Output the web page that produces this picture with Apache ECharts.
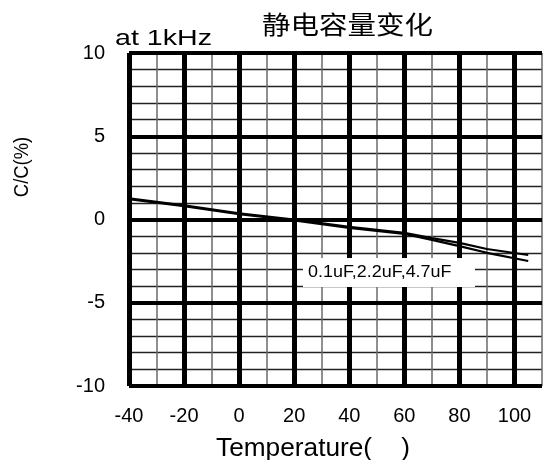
<!DOCTYPE html>
<html>
<head>
<meta charset="utf-8">
<script src="https://cdn.jsdelivr.net/npm/echarts@6/dist/echarts.min.js"></script>
<style>
  html, body { margin: 0; padding: 0; background: #fff; }
  #chart { width: 545px; height: 460px; }
</style>
</head>
<body>
<div id="chart"></div>
<script>
// Capacitance change vs temperature, measured at 1 kHz
const temps = [-40, -20, 0, 20, 40, 60, 70, 80, 90, 105];
const capUpper = [1.27, 0.85, 0.37, 0.0, -0.44, -0.80, -1.12, -1.40, -1.77, -2.13];
const capLower = [1.22, 0.80, 0.32, -0.05, -0.50, -0.87, -1.22, -1.60, -2.00, -2.49];

const xRange = [-40, 110];
const yRange = [-10, 10];
const xLabelLast = 100;

const titleText = '静电容量变化';
const freqText = 'at 1kHz';
const partsText = '0.1uF,2.2uF,4.7uF';
const xName = 'Temperature(    )';
const yName = 'C/C(%)';

const latin = '"Liberation Sans", Arial, sans-serif';
const cjk = '"Noto Sans CJK SC", sans-serif';

const toPairs = (xs, ys) => xs.map((x, i) => [x, ys[i]]);

const chart = echarts.init(document.getElementById('chart'), null, { renderer: 'canvas' });

const hidden = { show: false };

chart.setOption({
  animation: false,
  backgroundColor: '#fff',
  grid: { left: 129, top: 53, width: 414, height: 333, show: false },
  xAxis: [
    {
      type: 'value', min: xRange[0], max: xRange[1], interval: 10, z: 0,
      axisLine: hidden, axisTick: hidden, axisLabel: hidden,
      splitLine: { show: true, lineStyle: { color: '#6a6a6a', width: 1.5 } }
    },
    {
      type: 'value', min: xRange[0], max: xRange[1], interval: 20, position: 'bottom', z: 1,
      axisLine: hidden, axisTick: hidden,
      axisLabel: {
        color: '#000', fontSize: 20, fontFamily: latin, margin: 20,
        formatter: v => (v > xLabelLast ? '' : String(v))
      },
      splitLine: { show: true, showMaxLine: false, lineStyle: { color: '#000', width: 5 } }
    }
  ],
  yAxis: [
    {
      type: 'value', min: yRange[0], max: yRange[1], interval: 1, z: 0,
      axisLine: hidden, axisTick: hidden, axisLabel: hidden,
      splitLine: { show: true, lineStyle: { color: '#222', width: 1.3 } }
    },
    {
      type: 'value', min: yRange[0], max: yRange[1], interval: 5, position: 'left', z: 1,
      axisLine: hidden, axisTick: hidden,
      axisLabel: { color: '#000', fontSize: 20, fontFamily: latin, margin: 24 },
      splitLine: { show: true, lineStyle: { color: '#000', width: 4 } }
    }
  ],
  series: [
    {
      name: '0.1uF', type: 'line', xAxisIndex: 0, yAxisIndex: 0, z: 3,
      data: toPairs(temps, capUpper), symbol: 'none',
      lineStyle: { color: '#000', width: 2.2 }
    },
    {
      name: '2.2uF,4.7uF', type: 'line', xAxisIndex: 0, yAxisIndex: 0, z: 3,
      data: toPairs(temps, capLower), symbol: 'none',
      lineStyle: { color: '#000', width: 2.2 }
    }
  ],
  graphic: [
    {
      type: 'text', x: 262, y: 24, scaleX: 1.14, z: 10,
      style: { text: titleText, font: '25px ' + cjk, fill: '#000',
               align: 'left', verticalAlign: 'middle', textAlign: 'left', textVerticalAlign: 'middle' }
    },
    {
      type: 'text', x: 115, y: 39, scaleX: 1.3, z: 10,
      style: { text: freqText, font: '22px ' + latin, fill: '#000',
               align: 'left', verticalAlign: 'middle', textAlign: 'left', textVerticalAlign: 'middle' }
    },
    {
      type: 'rect', z: 10,
      shape: { x: 303, y: 258, width: 172, height: 29 },
      style: { fill: '#fff', stroke: null }
    },
    {
      type: 'text', x: 308, y: 273, scaleX: 1.12, z: 11,
      style: { text: partsText, font: '16px ' + latin, fill: '#000',
               align: 'left', verticalAlign: 'middle', textAlign: 'left', textVerticalAlign: 'middle' }
    },
    {
      type: 'text', x: 216, y: 449, scaleX: 1.05, z: 10,
      style: { text: xName, font: '25px ' + latin, fill: '#000',
               align: 'left', verticalAlign: 'middle', textAlign: 'left', textVerticalAlign: 'middle' }
    },
    {
      type: 'text', x: 22, y: 167, rotation: Math.PI / 2, scaleX: 0.92, z: 10,
      style: { text: yName, font: '20px ' + latin, fill: '#000',
               align: 'center', verticalAlign: 'middle', textAlign: 'center', textVerticalAlign: 'middle' }
    }
  ]
});
</script>
</body>
</html>
